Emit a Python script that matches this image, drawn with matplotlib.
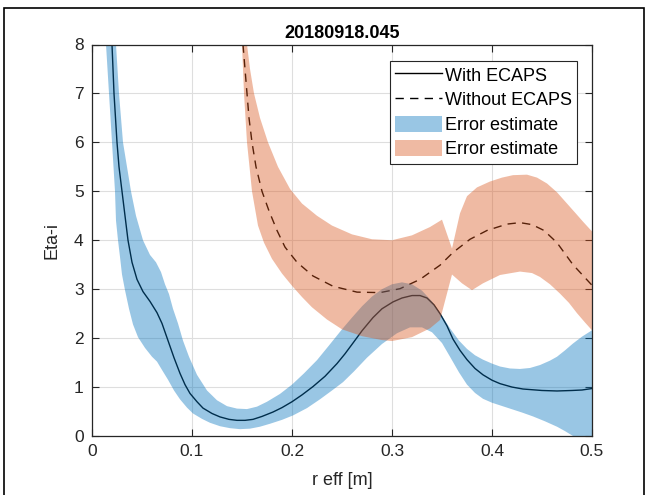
import numpy as np
import matplotlib
matplotlib.use("Agg")
import matplotlib.pyplot as plt
from matplotlib.patches import Rectangle

plt.rcParams["font.family"] = ["Liberation Sans", "DejaVu Sans"]

# Eta-i profile with ECAPS
r_with = [0.020, 0.021, 0.022, 0.0235, 0.025, 0.027, 0.030, 0.033, 0.036, 0.040,
          0.045, 0.051, 0.058, 0.065, 0.070, 0.076, 0.082, 0.088, 0.093, 0.098,
          0.105, 0.111, 0.120, 0.128, 0.137, 0.145, 0.153, 0.161, 0.170, 0.181,
          0.190, 0.200, 0.210, 0.221, 0.233, 0.245, 0.253, 0.261, 0.270, 0.281,
          0.290, 0.301, 0.310, 0.320, 0.328, 0.335, 0.342, 0.348, 0.355, 0.361,
          0.368, 0.375, 0.383, 0.391, 0.400, 0.408, 0.420, 0.431, 0.450, 0.465,
          0.480, 0.490, 0.500]
eta_with = [8.0, 7.5, 7.0, 6.5, 6.0, 5.5, 5.0, 4.5, 4.0, 3.55,
            3.2, 2.95, 2.75, 2.52, 2.3, 1.95, 1.6, 1.28, 1.05, 0.87,
            0.70, 0.57, 0.46, 0.39, 0.34, 0.32, 0.32, 0.34, 0.40, 0.49,
            0.58, 0.70, 0.84, 1.01, 1.22, 1.48, 1.68, 1.90, 2.15, 2.42,
            2.60, 2.74, 2.82, 2.87, 2.87, 2.82, 2.68, 2.50, 2.25, 1.98,
            1.75, 1.56, 1.38, 1.25, 1.14, 1.07, 1.00, 0.96, 0.93, 0.92,
            0.93, 0.94, 0.97]

# error band with ECAPS (upper / lower edge)
r_with_hi = [0.024, 0.027, 0.031, 0.035, 0.039, 0.044, 0.051, 0.058, 0.064, 0.069,
             0.073, 0.077, 0.081, 0.086, 0.091, 0.097, 0.105, 0.115, 0.125, 0.135,
             0.145, 0.155, 0.165, 0.175, 0.188, 0.200, 0.212, 0.225, 0.237, 0.250,
             0.260, 0.270, 0.280, 0.290, 0.300, 0.310, 0.320, 0.330, 0.340, 0.348,
             0.358, 0.367, 0.375, 0.383, 0.391, 0.400, 0.408, 0.418, 0.428, 0.438,
             0.448, 0.458, 0.465, 0.473, 0.481, 0.490, 0.500]
eta_with_hi = [8.0, 7.0, 6.0, 5.5, 5.0, 4.5, 4.0, 3.7, 3.55, 3.35,
               3.1, 2.9, 2.6, 2.3, 1.95, 1.62, 1.25, 0.93, 0.73, 0.61,
               0.56, 0.55, 0.60, 0.70, 0.86, 1.05, 1.28, 1.55, 1.85, 2.18,
               2.42, 2.65, 2.85, 3.00, 3.10, 3.14, 3.10, 2.97, 2.75, 2.52,
               2.20, 1.95, 1.78, 1.65, 1.56, 1.48, 1.42, 1.38, 1.37, 1.39,
               1.45, 1.54, 1.62, 1.75, 1.89, 2.03, 2.16]
r_with_lo = [0.014, 0.017, 0.020, 0.023, 0.024, 0.026, 0.028, 0.030, 0.033, 0.037,
             0.041, 0.046, 0.053, 0.060, 0.065, 0.070, 0.076, 0.082, 0.088, 0.095,
             0.101, 0.110, 0.118, 0.128, 0.138, 0.148, 0.158, 0.168, 0.178, 0.190,
             0.201, 0.215, 0.228, 0.240, 0.251, 0.262, 0.275, 0.290, 0.305, 0.318,
             0.330, 0.340, 0.350, 0.358, 0.367, 0.375, 0.383, 0.391, 0.400, 0.415,
             0.430, 0.441, 0.453, 0.465, 0.473, 0.481, 0.490, 0.500]
eta_with_lo = [8.0, 7.0, 6.0, 5.0, 4.4, 4.0, 3.66, 3.3, 2.98, 2.6,
               2.28, 2.02, 1.80, 1.62, 1.52, 1.35, 1.15, 0.93, 0.75, 0.58,
               0.46, 0.35, 0.27, 0.20, 0.16, 0.14, 0.15, 0.19, 0.25, 0.33,
               0.42, 0.57, 0.75, 0.93, 1.10, 1.32, 1.60, 1.88, 2.10, 2.22,
               2.22, 2.12, 1.90, 1.62, 1.30, 1.05, 0.88, 0.76, 0.68, 0.58,
               0.48, 0.40, 0.30, 0.19, 0.10, 0.0, -0.15, -0.35]

# Eta-i profile without ECAPS
r_without = [0.151, 0.153, 0.155, 0.157, 0.160, 0.164, 0.170, 0.177, 0.185, 0.193,
             0.205, 0.221, 0.241, 0.265, 0.288, 0.308, 0.328, 0.348, 0.361, 0.378,
             0.395, 0.415, 0.428, 0.440, 0.452, 0.465, 0.481, 0.500]
eta_without = [8.0, 7.5, 7.0, 6.5, 6.0, 5.5, 5.0, 4.6, 4.2, 3.86,
               3.55, 3.27, 3.06, 2.94, 2.93, 3.01, 3.20, 3.49, 3.75, 4.02,
               4.20, 4.33, 4.36, 4.32, 4.20, 3.95, 3.50, 3.08]

# error band without ECAPS
r_without_hi = [0.155, 0.158, 0.162, 0.168, 0.176, 0.186, 0.198, 0.210, 0.225, 0.240,
                0.260, 0.280, 0.300, 0.320, 0.338, 0.350, 0.360, 0.368, 0.375, 0.385,
                0.398, 0.410, 0.421, 0.435, 0.445, 0.455, 0.465, 0.475, 0.485, 0.491,
                0.500]
eta_without_hi = [8.0, 7.5, 7.0, 6.5, 6.0, 5.5, 5.05, 4.75, 4.50, 4.30,
                  4.12, 4.02, 4.00, 4.10, 4.27, 4.42, 3.83, 4.55, 4.90, 5.08,
                  5.20, 5.28, 5.33, 5.34, 5.28, 5.16, 4.98, 4.75, 4.52, 4.38,
                  4.18]
r_without_lo = [0.150, 0.152, 0.155, 0.160, 0.166, 0.172, 0.180, 0.190, 0.200, 0.210,
                0.220, 0.235, 0.250, 0.270, 0.290, 0.300, 0.320, 0.338, 0.348, 0.360,
                0.370, 0.380, 0.391, 0.408, 0.428, 0.440, 0.448, 0.458, 0.468, 0.477,
                0.485, 0.493, 0.500]
eta_without_lo = [8.0, 7.0, 6.0, 5.0, 4.3, 3.95, 3.62, 3.32, 3.07, 2.84,
                  2.63, 2.38, 2.18, 2.04, 1.96, 1.94, 2.02, 2.20, 2.37, 3.30,
                  3.12, 2.98, 3.12, 3.29, 3.36, 3.33, 3.25, 3.10, 2.91, 2.72,
                  2.51, 2.32, 2.16]

xticks = [0, 0.1, 0.2, 0.3, 0.4, 0.5]
yticks = [0, 1, 2, 3, 4, 5, 6, 7, 8]

blue = (0.0, 0.447, 0.741)
orange = (0.85, 0.325, 0.098)
axcol = (0.15, 0.15, 0.15)


def band(r_hi, hi, r_lo, lo):
    return np.r_[r_hi, r_lo[::-1]], np.r_[hi, lo[::-1]]


fig = plt.figure(figsize=(6.49, 4.95), dpi=100)
ax = fig.add_axes([92 / 649, 1 - 436 / 495, 500 / 649, 391.5 / 495])

# lines first, the translucent error bands sit on top of them
l1, = ax.plot(r_with, eta_with, color="k", lw=1.0, zorder=2, label="With ECAPS")
l2, = ax.plot(r_without, eta_without, color="k", lw=1.0, dashes=(6, 4.5),
              zorder=2, label="Without ECAPS")

bx, by = band(r_with_hi, eta_with_hi, r_with_lo, eta_with_lo)
p1, = ax.fill(bx, by, color=blue, alpha=0.4, lw=0, zorder=3, label="Error estimate")
bx, by = band(r_without_hi, eta_without_hi, r_without_lo, eta_without_lo)
p2, = ax.fill(bx, by, color=orange, alpha=0.4, lw=0, zorder=4, label="Error estimate")

ax.set_xlim(0, 0.5)
ax.set_ylim(0, 8)
ax.set_xticks(xticks)
ax.set_xticklabels([f"{t:g}" for t in xticks])
ax.set_yticks(yticks)
ax.grid(True, color=(0.87, 0.87, 0.87), lw=0.8)
ax.set_axisbelow(True)
ax.tick_params(direction="in", length=5, width=0.8, colors=axcol,
               labelsize=12.5, top=True, right=True, pad=6)
for s in ax.spines.values():
    s.set_color(axcol)
    s.set_linewidth(0.9)
    s.set_zorder(5)

ax.set_title("20180918.045", fontsize=13, fontweight="bold", pad=5)
ax.set_xlabel("r eff [m]", fontsize=13, color=axcol, labelpad=9)
ax.set_ylabel("Eta-i", fontsize=13, color=axcol, labelpad=10)

leg = ax.legend(handles=[l1, l2, p1, p2], loc="upper right",
                bbox_to_anchor=(0.97, 0.958), borderaxespad=0,
                fontsize=13, handlelength=2.6, handleheight=1.0,
                handletextpad=0.15, labelspacing=0.35, borderpad=0.3,
                fancybox=False, framealpha=1, edgecolor=axcol)
leg.get_frame().set_linewidth(0.8)
leg.set_zorder(6)

# outer frame around the figure
fig.patches.append(Rectangle((4 / 649, -0.05), 640 / 649, 1.05 - 8 / 495,
                             transform=fig.transFigure, fill=False,
                             edgecolor="k", lw=1.2))

fig.savefig("out.png", dpi=100)
